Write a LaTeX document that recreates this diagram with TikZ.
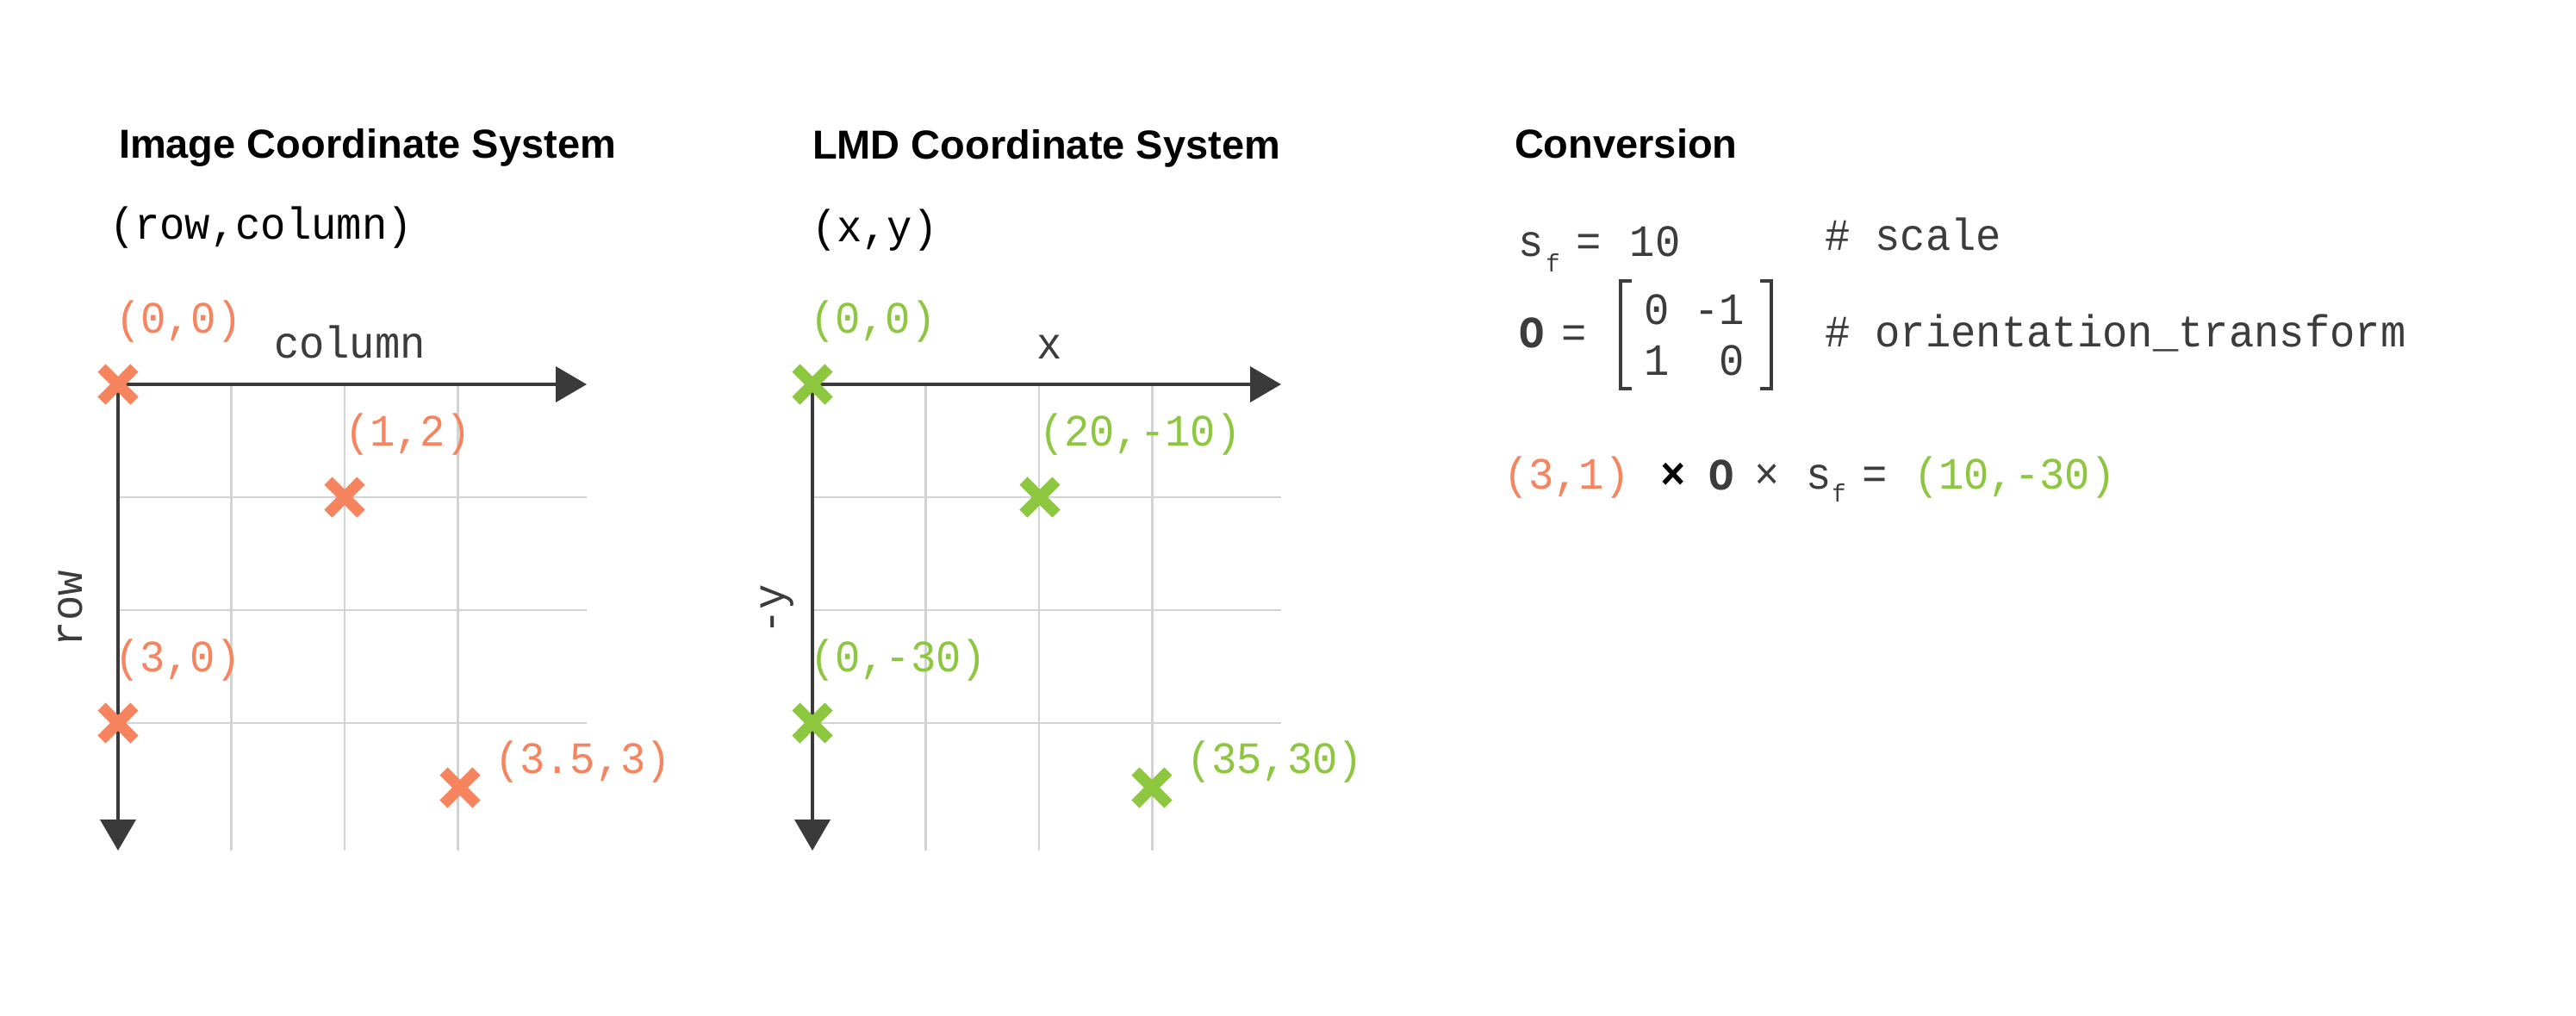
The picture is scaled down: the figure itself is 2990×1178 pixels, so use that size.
\documentclass[tikz,border=0pt]{standalone}
\usepackage{fontspec}
\setmainfont{Liberation Sans}
\newfontfamily\monof[FakeStretch=0.94]{Liberation Mono}
\usetikzlibrary{arrows.meta,shapes.misc}
\definecolor{orng}{HTML}{F5845F}
\definecolor{grn}{HTML}{8DC63F}
\definecolor{axisc}{HTML}{3A3A3A}
\definecolor{gridc}{HTML}{D2D3D5}
\definecolor{txtc}{HTML}{3C3C3C}
\tikzset{
  titletext/.style={font=\fontsize{9.4}{11}\selectfont\bfseries, anchor=base west, inner sep=0pt, outer sep=0pt, text=black},
  mono/.style={font=\monof\fontsize{10.4}{12}\selectfont, anchor=base west, inner sep=0pt, outer sep=0pt},
  monoc/.style={mono, anchor=base},
  monob/.style={font=\monof\bfseries\fontsize{10.4}{12}\selectfont, anchor=base, inner sep=0pt, outer sep=0pt},
  subtext/.style={font=\monof\fontsize{5.8}{6}\selectfont, anchor=base, inner sep=0pt, outer sep=0pt, text=txtc},
  gridline/.style={draw=gridc, line width=0.55pt},
  axisline/.style={draw=axisc, line width=0.8pt, -{Triangle[length=7.2pt,width=8.2pt]}},
  xmark/.style={cross out, draw=#1, line width=2.6pt, minimum size=7.6pt, inner sep=0pt, outer sep=0pt},
  bracketline/.style={draw=txtc, line width=0.9pt}
}
\begin{document}
\begin{tikzpicture}[x=0.2pt,y=-0.2pt]
\fill[white] (0,0) rectangle (2990,1178);
\useasboundingbox (0,0) rectangle (2990,1178);

% ---------------- Image coordinate system ----------------
\node[titletext] (t1) at (138,183) {Image Coordinate System};
\node[mono, text=black] (rc) at (127,277) {(row,column)};

\foreach \gx in {268.5,400,531.5} \draw[gridline] (\gx,446) -- (\gx,987);
\foreach \gy in {577,708,839} \draw[gridline] (137,\gy) -- (681,\gy);

\coordinate (o1) at (137,446);
\coordinate (xe1) at (681,446);
\coordinate (ye1) at (137,987);
\draw[axisline] (o1) -- (xe1);
\draw[axisline] (o1) -- (ye1);

\node[mono, text=txtc] (collab) at (318,415) {column};
\node[mono, text=txtc, rotate=90, anchor=base] (rowlab) at (95,706) {row};

\node[xmark=orng] (a00) at (137,446) {};
\node[xmark=orng] (a12) at (400,577) {};
\node[xmark=orng] (a30) at (137,839) {};
\node[xmark=orng] (a353) at (534,914) {};

\node[mono, text=orng] (la00) at (134,386) {(0,0)};
\node[mono, text=orng] (la12) at (400,517) {(1,2)};
\node[mono, text=orng] (la30) at (133,779) {(3,0)};
\node[mono, text=orng] (la353) at (574,897) {(3.5,3)};

% ---------------- LMD coordinate system ----------------
\node[titletext] (t2) at (943,184) {LMD Coordinate System};
\node[mono, text=black] (xy) at (942,280) {(x,y)};

\foreach \gx in {1074.5,1206,1337.5} \draw[gridline] (\gx,446) -- (\gx,987);
\foreach \gy in {577,708,839} \draw[gridline] (943,\gy) -- (1487,\gy);

\coordinate (o2) at (943,446);
\coordinate (xe2) at (1487,446);
\coordinate (ye2) at (943,987);
\draw[axisline] (o2) -- (xe2);
\draw[axisline] (o2) -- (ye2);

\node[mono, text=txtc] (xlab) at (1203,416) {x};
\node[mono, text=txtc, rotate=90, anchor=base] (ylab) at (910,707) {-y};

\node[xmark=grn] (b00) at (943,446) {};
\node[xmark=grn] (b2010) at (1207,577) {};
\node[xmark=grn] (b030) at (943,839) {};
\node[xmark=grn] (b3530) at (1337,914) {};

\node[mono, text=grn] (lb00) at (940,386) {(0,0)};
\node[mono, text=grn] (lb2010) at (1206,517) {(20,-10)};
\node[mono, text=grn] (lb030) at (940,779) {(0,-30)};
\node[mono, text=grn] (lb3530) at (1377,897) {(35,30)};

% ---------------- Conversion ----------------
\node[titletext] (t3) at (1758,183) {Conversion};

\node[monoc, text=txtc] (sf) at (1777,297) {s};
\node[subtext] (sfsub) at (1802.5,315) {f};
\node[monoc, text=txtc] (eq1) at (1844,297) {=};
\node[monoc, text=txtc] (ten) at (1921,297) {10};
\node[mono, text=txtc] (cscale) at (2118,290) {\# scale};

\node[monob, text=txtc] (obold) at (1778.5,403) {O};
\node[monoc, text=txtc] (eq2) at (1827.5,403) {=};
\draw[bracketline] (1894,326) -- (1881,326) -- (1881,451) -- (1894,451);
\draw[bracketline] (2043,326) -- (2056,326) -- (2056,451) -- (2043,451);
\node[mono, text=txtc] (m1) at (1908,376) {0 -1};
\node[mono, text=txtc] (m2) at (1908,435) {1\ \ 0};
\node[mono, text=txtc] (corient) at (2118,402) {\# orientation\_transform};

\node[mono, text=orng] (e31) at (1745,567) {(3,1)};
\node[monob, text=black] (times1) at (1942.5,567) {×};
\node[monob, text=txtc] (obold2) at (1998,568) {O};
\node[monoc, text=txtc] (times2) at (2051.5,567) {×};
\node[monoc, text=txtc] (sf2) at (2111.5,567) {s};
\node[subtext] (sf2sub) at (2134.5,582) {f};
\node[monoc, text=txtc] (eq3) at (2176,567) {=};
\node[mono, text=grn] (res) at (2221,567) {(10,-30)};
\end{tikzpicture}
\end{document}
